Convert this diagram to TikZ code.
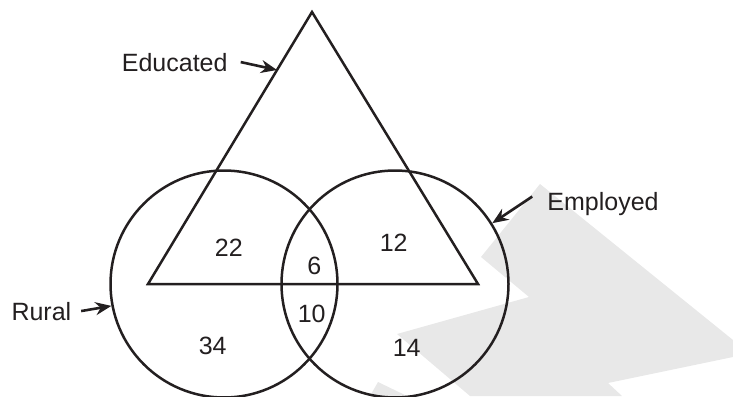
\documentclass[tikz,border=0pt]{standalone}
\usepackage{fontspec}
\setmainfont{Liberation Sans}
\usepackage{tikz}
\usetikzlibrary{arrows.meta, positioning, shapes.geometric}
\definecolor{inkblack}{RGB}{35,31,32}
\definecolor{shadegray}{RGB}{232,232,232}

\begin{document}
\begin{tikzpicture}[
        x=1pt, y=-1pt,
        ring/.style={circle, draw=inkblack, line width=2.5pt, minimum size=227pt, inner sep=0pt},
        setlabel/.style={font=\fontsize{25}{30}\selectfont, text=inkblack, inner sep=0pt},
        count/.style={font=\fontsize{25}{30}\selectfont, text=inkblack, anchor=base, inner sep=0pt},
        pointer/.style={-{Stealth[length=16pt, width=13pt]}, line width=2.6pt, inkblack}
    ]
    \useasboundingbox (0,0) rectangle (733,396);

    % Background shading
    \fill[shadegray] (540,184) -- (733,340) -- (733,357) -- (608,383) -- (622,396) -- (470,396)
        -- (397,334) -- (529,297) -- (481,257) -- cycle;
    \fill[shadegray] (370,396) -- (378,382) -- (407,396) -- cycle;

    % Sets: two circles and the triangle
    \node[ring] (rural) at (224,284) {};
    \node[ring] (employed) at (395,284) {};
    \coordinate (apex) at (312,12);
    \coordinate (baseL) at (148,284);
    \coordinate (baseR) at (478,284);
    \draw[inkblack, line width=2.5pt, line join=miter] (apex) -- (baseL) -- (baseR) -- cycle;

    % Set names
    \node[setlabel, anchor=base] (edu) at (174.7,71) {Educated};
    \node[setlabel, anchor=base] (emp) at (603,210) {Employed};
    \node[setlabel, anchor=base] (rur) at (41.4,320) {Rural};
    \coordinate (eduhit) at (277,70);

    % Pointers
    \draw[pointer] ([xshift=13pt]edu.east) -- (eduhit);
    \draw[pointer] ([xshift=-15pt, yshift=7pt]emp.west) -- (employed.32.5);
    \draw[pointer] ([xshift=9.7pt]rur.east) -- (rural.191);

    % Region counts
    \node[count] (n22) at (228.8,256) {22};
    \node[count] (n6) at (314.3,274) {6};
    \node[count] (n12) at (393.7,251.7) {12};
    \node[count] (n10) at (311.7,322.7) {10};
    \node[count] (n34) at (212.7,354) {34};
    \node[count] (n14) at (406.7,356.7) {14};

\end{tikzpicture}
\end{document}
